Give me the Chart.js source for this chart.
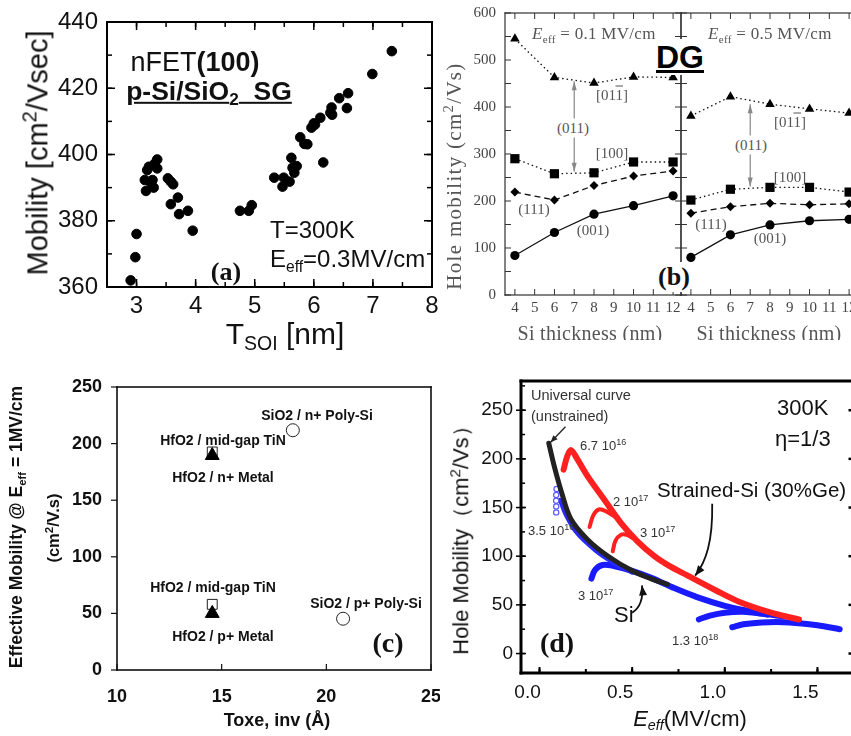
<!DOCTYPE html>
<html>
<head>
<meta charset="utf-8">
<script src="https://cdn.jsdelivr.net/npm/chart.js@4.4.0/dist/chart.umd.min.js"></script>
<style>
  html, body { margin: 0; padding: 0; background: #fff; }
  #wrap { position: relative; width: 851px; height: 736px; overflow: hidden; font-family: 'Liberation Sans', Arial, sans-serif; color: #111; }
  canvas { position: absolute; }
  .t { position: absolute; white-space: nowrap; line-height: 1; transform: translate(-50%, -50%); }
  .l { position: absolute; white-space: nowrap; line-height: 1; transform: translate(0, -50%); }
  .rot { transform: translate(-50%, -50%) rotate(-90deg); }
  .serif { font-family: 'Liberation Serif', 'Times New Roman', serif; }
  .sb { font-size: 0.65em; vertical-align: -0.3em; }
  .sp { font-size: 0.7em; vertical-align: 0.55em; }
  .ov { text-decoration: overline; }
  .gb { color: #555; }
  .wbg { background: #fff; padding: 2px 0; }
  #clipB { position: absolute; left: 440px; top: 0; width: 411px; height: 340px; overflow: hidden; }
  #clipB > div { margin-left: -440px; }
</style>
</head>
<body>
<div id="wrap">
  <canvas id="cB1" width="250" height="340" style="left:440px;top:0px"></canvas>
  <canvas id="cB2" width="200" height="340" style="left:672px;top:0px"></canvas>
  <canvas id="cC" width="440" height="396" style="left:0px;top:340px"></canvas>
  <canvas id="cD" width="420" height="396" style="left:440px;top:340px"></canvas>

  <!-- (b) -->
  <div id="clipB">
    <div class="l serif gb" style="left:532px;top:35px;font-size:17px;letter-spacing:0.3px"><i>E</i><span class="sb">eff</span> = 0.1 MV/cm</div>
    <div class="l serif gb" style="left:708px;top:35px;font-size:17px;letter-spacing:0.3px"><i>E</i><span class="sb">eff</span> = 0.5 MV/cm</div>
    <div class="t wbg" style="left:680px;top:57px;font-size:32px;font-weight:bold;text-decoration:underline;color:#000">DG</div>
    <div class="t serif gb" style="left:612px;top:95px;font-size:15px">[01<span class="ov">1</span>]</div>
    <div class="t serif gb wbg" style="left:573px;top:128px;font-size:15px">(011)</div>
    <div class="t serif gb" style="left:612px;top:153px;font-size:15px">[100]</div>
    <div class="t serif gb" style="left:534px;top:209px;font-size:15px">(111)</div>
    <div class="t serif gb" style="left:593px;top:230px;font-size:15px">(001)</div>
    <div class="t serif gb" style="left:790px;top:122px;font-size:15px">[01<span class="ov">1</span>]</div>
    <div class="t serif gb wbg" style="left:751px;top:145px;font-size:15px">(011)</div>
    <div class="t serif gb" style="left:790px;top:177px;font-size:15px">[100]</div>
    <div class="t serif gb" style="left:711px;top:224px;font-size:15px">(111)</div>
    <div class="t serif gb" style="left:770px;top:238px;font-size:15px">(001)</div>
    <div class="t serif wbg" style="left:674px;top:277px;font-size:26px;font-weight:bold">(b)</div>
    <div class="t serif gb rot" style="left:453px;top:176px;font-size:21px;letter-spacing:1.3px">Hole mobility (cm<span class="sp">2</span>/Vs)</div>
    <div class="t serif gb" style="left:590px;top:333px;font-size:20px;letter-spacing:0.3px">Si thickness (nm)</div>
    <div class="t serif gb" style="left:769px;top:333px;font-size:20px;letter-spacing:0.3px">Si thickness (nm)</div>
  </div>

  <!-- (c) -->
  <div class="t" style="left:317px;top:415px;font-size:14px;font-weight:bold">SiO2 / n+ Poly-Si</div>
  <div class="t" style="left:223px;top:440px;font-size:14px;font-weight:bold">HfO2 / mid-gap TiN</div>
  <div class="t" style="left:223px;top:477px;font-size:14px;font-weight:bold">HfO2 / n+ Metal</div>
  <div class="t" style="left:213px;top:587px;font-size:14px;font-weight:bold">HfO2 / mid-gap TiN</div>
  <div class="t" style="left:366px;top:603px;font-size:14px;font-weight:bold">SiO2 / p+ Poly-Si</div>
  <div class="t" style="left:223px;top:636px;font-size:14px;font-weight:bold">HfO2 / p+ Metal</div>
  <div class="t serif" style="left:388px;top:643px;font-size:28px;font-weight:bold">(c)</div>
  <div class="t rot" style="left:18px;top:527px;font-size:17.5px;font-weight:bold">Effective Mobility @ E<span class="sb">eff</span> = 1MV/cm</div>
  <div class="t rot" style="left:53px;top:528px;font-size:16.5px;font-weight:bold">(cm<span class="sp">2</span>/V.s)</div>
  <div class="t" style="left:277px;top:720px;font-size:18px;font-weight:bold">Toxe, inv (Å)</div>

  <!-- (d) -->
  <div class="l" style="left:531px;top:395px;font-size:14.5px;color:#333">Universal curve</div>
  <div class="l" style="left:531px;top:416px;font-size:14.5px;color:#333">(unstrained)</div>
  <div class="l" style="left:580px;top:445px;font-size:13px;color:#333">6.7 10<span class="sp">16</span></div>
  <div class="l" style="left:528px;top:530px;font-size:13px;color:#333">3.5 10<span class="sp">16</span></div>
  <div class="l" style="left:613px;top:501px;font-size:13px;color:#333">2 10<span class="sp">17</span></div>
  <div class="l" style="left:640px;top:532px;font-size:13px;color:#333">3 10<span class="sp">17</span></div>
  <div class="l" style="left:578px;top:595px;font-size:13px;color:#333">3 10<span class="sp">17</span></div>
  <div class="l" style="left:672px;top:640px;font-size:13px;color:#333">1.3 10<span class="sp">18</span></div>
  <div class="l" style="left:657px;top:490px;font-size:20.5px">Strained-Si (30%Ge)</div>
  <div class="l" style="left:614px;top:615px;font-size:22px">Si</div>
  <div class="l" style="left:777px;top:408px;font-size:22px">300K</div>
  <div class="l" style="left:775px;top:439px;font-size:22px">η=1/3</div>
  <div class="t serif" style="left:557px;top:643px;font-size:28px;font-weight:bold">(d)</div>
  <div class="t rot" style="left:460px;top:535px;font-size:22px">Hole Mobility（cm<span class="sp">2</span>/Vs）</div>
  <div class="t" style="left:690px;top:720px;font-size:22px"><i>E<span class="sb">eff</span></i>(MV/cm)</div>

  <!-- (a), placed last so nothing sits above it -->
  <canvas id="cA" width="440" height="340" style="left:0px;top:0px"></canvas>
  <div class="t" style="left:195px;top:62px;font-size:27px">nFET<b>(100)</b></div>
  <div class="t" style="left:209px;top:93px;font-size:26.5px;font-weight:bold;text-decoration:underline">p-Si/SiO<span class="sb">2</span>&nbsp; SG</div>
  <div class="l" style="left:270px;top:230px;font-size:24px">T=300K</div>
  <div class="l" style="left:270px;top:261px;font-size:24px">E<span class="sb">eff</span>=0.3MV/cm</div>
  <div class="t serif" style="left:226px;top:272px;font-size:26px;font-weight:bold">(a)</div>
  <div class="t rot" style="left:36px;top:153px;font-size:29px">Mobility [cm<span class="sp">2</span>/Vsec]</div>
  <div class="t" style="left:285px;top:336px;font-size:30px">T<span class="sb">SOI</span> [nm]</div>
</div>

<script>
// (a) nFET(100) mobility vs T_SOI
const aTsoi = [2.90, 2.98, 3.00, 3.14, 3.16, 3.18, 3.21, 3.24, 3.27, 3.29, 3.31, 3.35, 3.35,
  3.53, 3.58, 3.62, 3.58, 3.70, 3.72, 3.87, 3.95,
  4.75, 4.90, 4.95,
  5.33, 5.47, 5.49, 5.59, 5.62, 5.64, 5.67, 5.71, 5.77, 5.84, 5.89, 5.96, 6.00, 6.02,
  6.11, 6.16, 6.28, 6.30, 6.31, 6.43, 6.56, 6.58, 6.99, 7.32];
const aMob = [362, 369, 376, 392.3, 389, 395.3, 396.3, 391.5, 392.3, 390, 397.3, 398.5, 395.8,
  392.8, 391.8, 391, 385, 387, 382, 383, 377,
  383, 383, 384.7,
  393, 390.3, 393, 391.8, 399, 396, 394.5, 396.5, 405.2, 403.2, 403.1, 408.1, 409.4, 409,
  411.1, 397.6, 412.6, 414.2, 412, 417, 414, 418.5, 424.3, 431.2];
const aTicksX = [3, 4, 5, 6, 7, 8];
const aTicksY = [360, 380, 400, 420, 440];

// (b) hole mobility vs Si thickness (DG)
const bThick = [4, 6, 8, 10, 12];
const bLo011 = [545, 463, 451, 464, 463];
const bLo100 = [290, 258, 260, 283, 283];
const bLo111 = [219, 202, 233, 253, 264];
const bLo001 = [84, 133, 172, 190, 211];
const bHi011 = [381, 422, 406, 396, 387];
const bHi100 = [202, 225, 229, 229, 219];
const bHi111 = [174, 188, 195, 192, 194];
const bHi001 = [80, 128, 149, 158, 161];
const bTicksX = [4, 5, 6, 7, 8, 9, 10, 11, 12];
const bTicksY = [0, 100, 200, 300, 400, 500, 600];

// (c) effective mobility @ 1MV/cm vs Toxe
const cPolyX = [18.4, 20.8];
const cPolyY = [211.8, 45.3];
const cTinX = [14.55, 14.55];
const cTinY = [192.6, 58];
const cMetX = [14.55, 14.55];
const cMetY = [189.5, 50];
const cTicksX = [10, 15, 20, 25];
const cTicksY = [0, 50, 100, 150, 200, 250];

// (d) hole mobility vs Eeff
const dUniX = [0.05, 0.08, 0.12, 0.17, 0.26, 0.37, 0.5, 0.6, 0.69];
const dUniY = [216, 192, 165, 138, 117, 100, 85, 77, 71];
const dRedX = [0.13, 0.15, 0.17, 0.2, 0.26, 0.35, 0.44, 0.53, 0.62, 0.7, 0.8, 0.95, 1.08, 1.25, 1.4];
const dRedY = [189, 203, 209, 201, 182, 158, 134, 115, 100, 90, 80, 65, 53, 42, 35];
const dRed2X = [0.27, 0.29, 0.32, 0.36, 0.42];
const dRed2Y = [130, 142, 148, 146, 139];
const dRed3X = [0.395, 0.41, 0.44, 0.47, 0.5];
const dRed3Y = [105, 116, 122, 122, 119];
const dBluDotsX = [0.09, 0.09, 0.09, 0.09, 0.092];
const dBluDotsY = [145, 151, 157, 163, 169];
const dBlu1X = [0.11, 0.14, 0.2, 0.3, 0.4, 0.5];
const dBlu1Y = [158, 143, 124, 106, 93, 83];
const dBlu2X = [0.28, 0.3, 0.34, 0.4, 0.5, 0.6, 0.73, 0.85, 1.0, 1.12, 1.23];
const dBlu2Y = [77, 86, 91, 90, 85, 78, 67, 58, 49, 44, 40];
const dBlu3X = [0.86, 0.92, 1.0, 1.1, 1.2, 1.32];
const dBlu3Y = [35, 39, 42, 43, 41, 38];
const dBlu4X = [1.04, 1.1, 1.2, 1.35, 1.5, 1.62];
const dBlu4Y = [27, 30, 32, 32, 29, 25];
const dTicksX = [0, 0.5, 1, 1.5];
const dTicksY = [0, 50, 100, 150, 200, 250];

const sans = "'Liberation Sans', Arial, sans-serif";
const serif = "'Liberation Serif', 'Times New Roman', serif";

const pts = (xs, ys) => xs.map((x, i) => ({ x, y: ys[i] }));

// fixed axis size, no extra label-overflow padding
function linScale(min, max, ticks, font, color, pad, size, more) {
    return Object.assign({
        type: "linear",
        min,
        max,
        grid: { display: false, drawTicks: false },
        border: { display: false },
        afterBuildTicks: (s) => { s.ticks = ticks.map((v) => ({ value: v })); },
        ticks: { font, color, padding: pad, autoSkip: false, maxRotation: 0 },
        afterFit: (s) => {
            if (s.isHorizontal()) s.height = size; else s.width = size;
            s.paddingLeft = s.paddingRight = s.paddingTop = s.paddingBottom = 0;
        },
    }, more || {});
}

// box + tick marks as thin filled bars, positions from the chart's scales
function drawFrame(ctx, a, scales, cfg) {
    const w = cfg.width;
    ctx.save();
    ctx.globalAlpha = 1;
    ctx.fillStyle = cfg.color;
    if (cfg.sides.includes("l")) ctx.fillRect(a.left - w / 2, a.top - w / 2, w, a.bottom - a.top + w);
    if (cfg.sides.includes("r")) ctx.fillRect(a.right - w / 2, a.top - w / 2, w, a.bottom - a.top + w);
    if (cfg.sides.includes("t")) ctx.fillRect(a.left - w / 2, a.top - w / 2, a.right - a.left + w, w);
    if (cfg.sides.includes("b")) ctx.fillRect(a.left - w / 2, a.bottom - w / 2, a.right - a.left + w, w);
    cfg.ticks.forEach((t) => {
        const sc = scales[t.axis];
        const lw = t.lw || w;
        const n0 = Math.ceil(sc.min / t.step - 1e-6);
        const n1 = Math.floor(sc.max / t.step + 1e-6);
        const inn = t.dir === "out" ? 0 : t.len;
        const out = t.dir === "in" ? 0 : t.len;
        for (let n = n0; n <= n1; n++) {
            const p = sc.getPixelForValue(n * t.step);
            if (t.side === "l") ctx.fillRect(a.left - out, p - lw / 2, inn + out, lw);
            if (t.side === "r") ctx.fillRect(a.right - inn, p - lw / 2, inn + out, lw);
            if (t.side === "b") ctx.fillRect(p - lw / 2, a.bottom - inn, lw, inn + out);
            if (t.side === "t") ctx.fillRect(p - lw / 2, a.top - out, lw, inn + out);
        }
    });
    ctx.restore();
}

const frame = (cfg) => ({
    id: "frame",
    afterDraw(chart) { drawFrame(chart.ctx, chart.chartArea, chart.scales, cfg); },
});

function head(ctx, fx, fy, tx, ty, len, wid) {
    const ang = Math.atan2(ty - fy, tx - fx);
    ctx.beginPath();
    ctx.moveTo(tx, ty);
    ctx.lineTo(tx - len * Math.cos(ang) + wid * Math.sin(ang), ty - len * Math.sin(ang) - wid * Math.cos(ang));
    ctx.lineTo(tx - len * Math.cos(ang) - wid * Math.sin(ang), ty - len * Math.sin(ang) + wid * Math.cos(ang));
    ctx.closePath();
    ctx.fill();
}

// arrows given in data coordinates
function arrows(list) {
    return {
        id: "arrows",
        afterDatasetsDraw(chart) {
            const { ctx, scales: { x, y } } = chart;
            list.forEach((ar) => {
                const P = ar.pts.map(([vx, vy]) => [x.getPixelForValue(vx), y.getPixelForValue(vy)]);
                ctx.save();
                ctx.setLineDash([]);
                ctx.strokeStyle = ar.color;
                ctx.fillStyle = ar.color;
                ctx.lineWidth = ar.lw;
                ctx.beginPath();
                ctx.moveTo(P[0][0], P[0][1]);
                if (P.length === 4) ctx.bezierCurveTo(P[1][0], P[1][1], P[2][0], P[2][1], P[3][0], P[3][1]);
                else ctx.lineTo(P[1][0], P[1][1]);
                ctx.stroke();
                const e = P.length - 1;
                head(ctx, P[e - 1][0], P[e - 1][1], P[e][0], P[e][1], ar.hl, ar.hw);
                if (ar.both) head(ctx, P[1][0], P[1][1], P[0][0], P[0][1], ar.hl, ar.hw);
                ctx.restore();
            });
        },
    };
}

const base = (pad) => ({
    responsive: false,
    animation: false,
    events: [],
    layout: { padding: pad },
    plugins: { legend: { display: false }, tooltip: { enabled: false } },
});

// ---------- (b)
function bSets(v011, v100, v111, v001) {
    const common = { showLine: true, borderColor: "#111", backgroundColor: "#000", borderWidth: 1.3, clip: false, pointBorderWidth: 0 };
    return [
        Object.assign({ data: pts(bThick, v011), pointStyle: "triangle", pointRadius: 5.5, borderDash: [1.5, 3] }, common),
        Object.assign({ data: pts(bThick, v100), pointStyle: "rect", pointRadius: 6.5, borderDash: [1.5, 3] }, common),
        Object.assign({ data: pts(bThick, v111), pointStyle: "rectRot", pointRadius: 4.5, borderDash: [6, 4] }, common),
        Object.assign({ data: pts(bThick, v001), pointStyle: "circle", pointRadius: 4.6 }, common),
    ];
}
const bTickFont = { family: serif, size: 15 };
const bFrameTicks = [
    { axis: "y", side: "l", step: 50, len: 6, dir: "in", lw: 1 },
    { axis: "y", side: "r", step: 50, len: 6, dir: "in", lw: 1 },
    { axis: "x", side: "b", step: 1, len: 6, dir: "in", lw: 1 },
    { axis: "x", side: "t", step: 1, len: 6, dir: "in", lw: 1 },
];

new Chart(document.getElementById("cB1"), {
    type: "scatter",
    data: { datasets: bSets(bLo011, bLo100, bLo111, bLo001) },
    options: Object.assign(base({ top: 13, right: 9, left: 0, bottom: 0 }), {
        scales: {
            x: linScale(3.5, 12.4, bTicksX, bTickFont, "#444", 4, 45),
            y: linScale(0, 600, bTicksY, bTickFont, "#444", 9, 65),
        },
    }),
    plugins: [
        frame({ color: "#333", width: 1.2, sides: "lrtb", ticks: bFrameTicks }),
        arrows([{ pts: [[7, 455], [7, 262]], color: "#888", lw: 1.2, hl: 9, hw: 2.5, both: true }]),
    ],
});

new Chart(document.getElementById("cB2"), {
    type: "scatter",
    data: { datasets: bSets(bHi011, bHi100, bHi111, bHi001) },
    options: Object.assign(base({ top: 13, right: 15, left: 9, bottom: 0 }), {
        scales: {
            x: linScale(3.5, 12.4, bTicksX, bTickFont, "#444", 4, 45),
            y: linScale(0, 600, bTicksY, bTickFont, "#444", 9, 0, { display: false }),
        },
    }),
    plugins: [
        frame({ color: "#333", width: 1.2, sides: "lrtb", ticks: bFrameTicks }),
        arrows([{ pts: [[7, 406], [7, 231]], color: "#888", lw: 1.2, hl: 9, hw: 2.5, both: true }]),
    ],
});

// ---------- (c)  (first dataset is drawn on top)
const cTickFont = { family: sans, size: 18, weight: "bold" };
new Chart(document.getElementById("cC"), {
    type: "scatter",
    data: {
        datasets: [
            { data: pts(cMetX, cMetY), pointStyle: "triangle", pointRadius: 8, backgroundColor: "#000", borderColor: "#000", borderWidth: 1 },
            { data: pts(cTinX, cTinY), pointStyle: "rect", pointRadius: 7, backgroundColor: "#fff", borderColor: "#222", borderWidth: 1 },
            { data: pts(cPolyX, cPolyY), pointStyle: "circle", pointRadius: 6.5, backgroundColor: "#fff", borderColor: "#222", borderWidth: 1 },
        ],
    },
    options: Object.assign(base({ top: 47, right: 5, left: 0, bottom: 0 }), {
        scales: {
            x: linScale(10, 25, cTicksX, cTickFont, "#111", 16, 66),
            y: linScale(0, 250, cTicksY, cTickFont, "#111", 15, 117),
        },
    }),
    plugins: [frame({
        color: "#111", width: 1.6, sides: "lrtb",
        ticks: [
            { axis: "y", side: "l", step: 50, len: 6, dir: "out", lw: 1.2 },
            { axis: "x", side: "b", step: 5, len: 6, dir: "in", lw: 1.2 },
        ],
    })],
});

// ---------- (d)  (first dataset is drawn on top)
const curve = (xs, ys, color, w) => ({
    data: pts(xs, ys), showLine: true, pointRadius: 0, borderColor: color, borderWidth: w, tension: 0.35,
    borderCapStyle: "round", borderJoinStyle: "round",
});
const dTickFont = { family: sans, size: 19 };
new Chart(document.getElementById("cD"), {
    type: "scatter",
    data: {
        datasets: [
            curve(dUniX, dUniY, "#222", 5),
            { data: pts(dBluDotsX, dBluDotsY), pointStyle: "circle", pointRadius: 2.6, backgroundColor: "#fff", borderColor: "#5a5aff", borderWidth: 1.2 },
            curve(dRedX, dRedY, "#ff2020", 6),
            curve(dRed2X, dRed2Y, "#ff2020", 4),
            curve(dRed3X, dRed3Y, "#ff2020", 4),
            curve(dBlu1X, dBlu1Y, "#2a2aff", 4),
            curve(dBlu2X, dBlu2Y, "#1a1aff", 6),
            curve(dBlu3X, dBlu3Y, "#1a1aff", 6),
            curve(dBlu4X, dBlu4Y, "#1a1aff", 6),
        ],
    },
    options: Object.assign(base({ top: 41, right: 5.5, left: 0, bottom: 0 }), {
        scales: {
            x: linScale(-0.1, 1.7, dTicksX, dTickFont, "#111", 8, 63,
                { ticks: { font: dTickFont, color: "#111", padding: 8, autoSkip: false, maxRotation: 0, labelOffset: -12, callback: (v) => v.toFixed(1) } }),
            y: linScale(-20, 280, dTicksY, dTickFont, "#111", 8, 81),
        },
    }),
    plugins: [
        frame({
            color: "#000", width: 3, sides: "lrtb",
            ticks: [
                { axis: "y", side: "l", step: 50, len: 5, dir: "both", lw: 1.5 },
                { axis: "y", side: "l", step: 25, len: 4, dir: "in", lw: 1.5 },
                { axis: "y", side: "r", step: 50, len: 6, dir: "in", lw: 2.5 },
                { axis: "x", side: "b", step: 0.5, len: 6, dir: "in", lw: 2 },
                { axis: "x", side: "b", step: 0.25, len: 4, dir: "in", lw: 2 },
            ],
        }),
        arrows([
            { pts: [[0.14, 233], [0.06, 217]], color: "#222", lw: 1.3, hl: 7, hw: 3 },
            { pts: [[0.932, 154], [0.935, 115], [0.9, 95], [0.84, 80]], color: "#111", lw: 1.8, hl: 10, hw: 4 },
            { pts: [[0.5, 42], [0.55, 48], [0.56, 58], [0.553, 70]], color: "#111", lw: 1.8, hl: 10, hw: 4 },
        ]),
    ],
});

// ---------- (a)  (built-in axis borders on all four sides, plus the inward ticks)
const aFont = { family: sans, size: 24 };
const edge = (pos, min, max) => ({
    type: "linear", position: pos, min, max,
    ticks: { display: false },
    grid: { display: false, drawTicks: false },
    border: { display: true, color: "#000", width: 2 },
    afterFit: (s) => {
        if (s.isHorizontal()) s.height = 0; else s.width = 0;
        s.paddingLeft = s.paddingRight = s.paddingTop = s.paddingBottom = 0;
    },
});
new Chart(document.getElementById("cA"), {
    type: "scatter",
    data: {
        datasets: [{ data: pts(aTsoi, aMob), pointRadius: 4.8, backgroundColor: "#000", borderColor: "#000", borderWidth: 1, clip: false }],
    },
    options: Object.assign(base({ top: 22, right: 8, left: 0, bottom: 0 }), {
        scales: {
            x: linScale(2.5, 8, aTicksX, aFont, "#111", 5, 53, { border: { display: true, color: "#000", width: 2 } }),
            y: linScale(360, 440, aTicksY, aFont, "#111", 9, 107, { border: { display: true, color: "#000", width: 2 } }),
            x2: edge("top", 2.5, 8),
            y2: edge("right", 360, 440),
        },
    }),
    plugins: [frame({
        color: "#000", width: 2, sides: "lrtb",
        ticks: [
            { axis: "y", side: "l", step: 20, len: 8, dir: "in", lw: 1.5 },
            { axis: "y", side: "l", step: 10, len: 5, dir: "in", lw: 1.5 },
            { axis: "y", side: "r", step: 20, len: 8, dir: "in", lw: 1.5 },
            { axis: "y", side: "r", step: 10, len: 5, dir: "in", lw: 1.5 },
            { axis: "x", side: "b", step: 1, len: 8, dir: "in", lw: 1.5 },
            { axis: "x", side: "b", step: 0.5, len: 5, dir: "in", lw: 1.5 },
            { axis: "x", side: "t", step: 1, len: 8, dir: "in", lw: 1.5 },
            { axis: "x", side: "t", step: 0.5, len: 5, dir: "in", lw: 1.5 },
        ],
    })],
});
</script>
</body>
</html>
